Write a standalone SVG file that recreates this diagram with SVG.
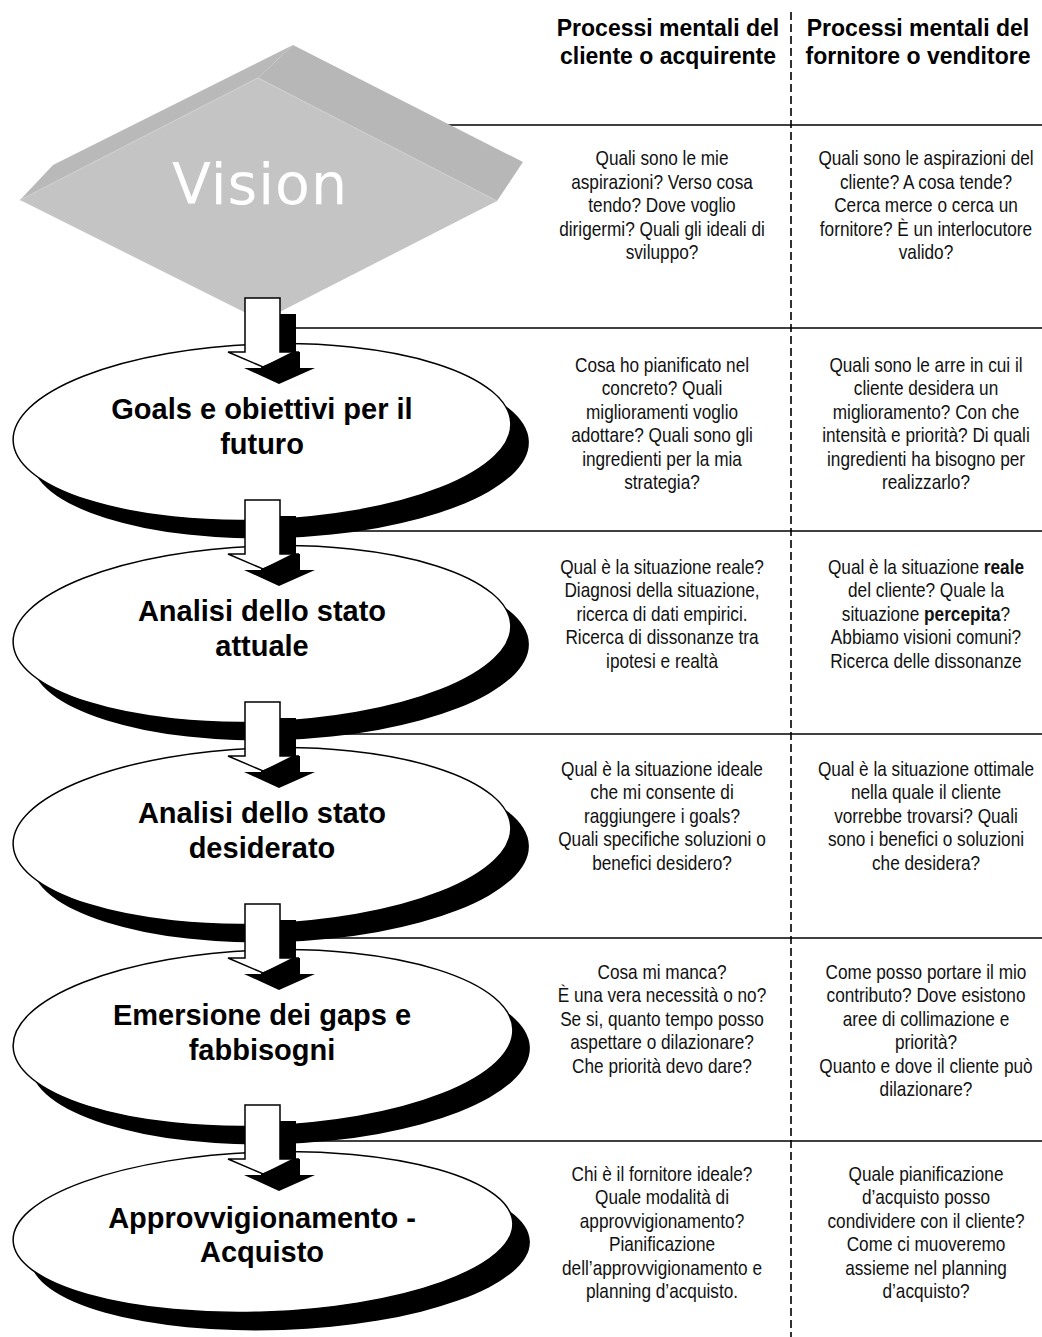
<svg xmlns="http://www.w3.org/2000/svg" width="1042" height="1337" viewBox="0 0 1042 1337">
<style>
.sep{stroke:#000;stroke-width:1.6;fill:none}
.dash{stroke:#000;stroke-width:1.6;stroke-dasharray:8 4;fill:none}
.hdr{font-family:"Liberation Sans",Arial,sans-serif;font-weight:bold;font-size:23px;fill:#000;text-anchor:middle}
.t{font-family:"Liberation Sans",Arial,sans-serif;font-size:21px;fill:#111;text-anchor:middle}
.lbl{font-family:"Liberation Sans",Arial,sans-serif;font-weight:bold;font-size:29px;fill:#000;text-anchor:middle}
.ell{fill:#fff;stroke:#000;stroke-width:1.5}
.shd{fill:#000}
.arw{fill:#fff;stroke:#000;stroke-width:1.5;stroke-linejoin:miter}
</style>
<defs>
<g id="arrowShape">
<polygon class="shd" points="261,16 296,16 296,70 315,70 279,86 244,70 261,70"/>
<polygon class="arw" points="245,0 280,0 280,54 299,54 263,69 228,54 245,54"/>
<polygon class="shd" points="262,69 292,54 300,54 300,71"/>
</g>
</defs>
<rect width="1042" height="1337" fill="#fff"/>

<g id="connectors">
<line class="dash" x1="791" y1="12" x2="791" y2="1337"/>
<line class="sep" x1="300" y1="125" x2="1042" y2="125"/>
<line class="sep" x1="296" y1="328" x2="1042" y2="328"/>
<line class="sep" x1="296" y1="531" x2="1042" y2="531"/>
<line class="sep" x1="296" y1="734" x2="1042" y2="734"/>
<line class="sep" x1="296" y1="938" x2="1042" y2="938"/>
<line class="sep" x1="296" y1="1141" x2="1042" y2="1141"/>
</g>

<g id="headers">
<text class="hdr"><tspan x="668" y="36">Processi mentali del</tspan><tspan x="668" y="64">cliente o acquirente</tspan></text>
<text class="hdr"><tspan x="918" y="36">Processi mentali del</tspan><tspan x="918" y="64">fornitore o venditore</tspan></text>
</g>

<g id="vision">
<polygon points="53,165 293,45 258,78 20,200" fill="#b9b9b9"/>
<polygon points="293,45 523,162 497,201 258,78" fill="#b7b7b7"/>
<polygon points="258,78 497,201 262,321 20,200" fill="#c4c4c4"/>
<polyline points="20,200 258,78 497,201" fill="none" stroke="#cdcdcd" stroke-width="1.2"/>
<text x="172" y="204" font-family="'DejaVu Sans',Verdana,sans-serif" font-size="57" letter-spacing="1" fill="#fff">Vision</text>
</g>

<g id="goals">
<ellipse class="shd" cx="280" cy="450" rx="249" ry="88" transform="rotate(-2 280 450)"/>
<ellipse class="ell" cx="262" cy="432" rx="249" ry="88" transform="rotate(-2 262 432)"/>
<text class="lbl"><tspan x="262" y="419">Goals e obiettivi per il</tspan><tspan x="262" y="454">futuro</tspan></text>
</g>

<g id="attuale">
<ellipse class="shd" cx="280" cy="652" rx="249" ry="88" transform="rotate(-2 280 652)"/>
<ellipse class="ell" cx="262" cy="634" rx="249" ry="88" transform="rotate(-2 262 634)"/>
<text class="lbl"><tspan x="262" y="621">Analisi dello stato</tspan><tspan x="262" y="656">attuale</tspan></text>
</g>

<g id="desiderato">
<ellipse class="shd" cx="280" cy="854" rx="249" ry="88" transform="rotate(-2 280 854)"/>
<ellipse class="ell" cx="262" cy="836" rx="249" ry="88" transform="rotate(-2 262 836)"/>
<text class="lbl"><tspan x="262" y="823">Analisi dello stato</tspan><tspan x="262" y="858">desiderato</tspan></text>
</g>

<g id="gaps">
<ellipse class="shd" cx="280" cy="1056" rx="250" ry="88" transform="rotate(-2 280 1056)"/>
<ellipse class="ell" cx="263" cy="1038" rx="250" ry="88" transform="rotate(-2 263 1038)"/>
<text class="lbl"><tspan x="262" y="1025">Emersione dei gaps e</tspan><tspan x="262" y="1060">fabbisogni</tspan></text>
</g>

<g id="acquisto">
<ellipse class="shd" cx="280" cy="1250" rx="250" ry="80" transform="rotate(-2 280 1250)"/>
<ellipse class="ell" cx="263" cy="1232" rx="250" ry="80" transform="rotate(-2 263 1232)"/>
<text class="lbl"><tspan x="262" y="1228">Approvvigionamento -</tspan><tspan x="262" y="1262">Acquisto</tspan></text>
</g>

<g id="arrows">
<use href="#arrowShape" transform="translate(0,298)"/>
<use href="#arrowShape" transform="translate(0,500)"/>
<use href="#arrowShape" transform="translate(0,702)"/>
<use href="#arrowShape" transform="translate(0,904)"/>
<use href="#arrowShape" transform="translate(0,1105)"/>
</g>

<g id="row1">
<text class="t" transform="translate(662,0) scale(0.82,1)"><tspan x="0" y="165.5">Quali sono le mie</tspan><tspan x="0" dy="23.4">aspirazioni? Verso cosa</tspan><tspan x="0" dy="23.4">tendo? Dove voglio</tspan><tspan x="0" dy="23.4">dirigermi? Quali gli ideali di</tspan><tspan x="0" dy="23.4">sviluppo?</tspan></text>
<text class="t" transform="translate(926,0) scale(0.82,1)"><tspan x="0" y="165.5">Quali sono le aspirazioni del</tspan><tspan x="0" dy="23.4">cliente? A cosa tende?</tspan><tspan x="0" dy="23.4">Cerca merce o cerca un</tspan><tspan x="0" dy="23.4">fornitore? È un interlocutore</tspan><tspan x="0" dy="23.4">valido?</tspan></text>
</g>

<g id="row2">
<text class="t" transform="translate(662,0) scale(0.82,1)"><tspan x="0" y="372">Cosa ho pianificato nel</tspan><tspan x="0" dy="23.4">concreto? Quali</tspan><tspan x="0" dy="23.4">miglioramenti voglio</tspan><tspan x="0" dy="23.4">adottare? Quali sono gli</tspan><tspan x="0" dy="23.4">ingredienti per la mia</tspan><tspan x="0" dy="23.4">strategia?</tspan></text>
<text class="t" transform="translate(926,0) scale(0.82,1)"><tspan x="0" y="372">Quali sono le arre in cui il</tspan><tspan x="0" dy="23.4">cliente desidera un</tspan><tspan x="0" dy="23.4">miglioramento? Con che</tspan><tspan x="0" dy="23.4">intensità e priorità? Di quali</tspan><tspan x="0" dy="23.4">ingredienti ha bisogno per</tspan><tspan x="0" dy="23.4">realizzarlo?</tspan></text>
</g>

<g id="row3">
<text class="t" transform="translate(662,0) scale(0.82,1)"><tspan x="0" y="574">Qual è la situazione reale?</tspan><tspan x="0" dy="23.4">Diagnosi della situazione,</tspan><tspan x="0" dy="23.4">ricerca di dati  empirici.</tspan><tspan x="0" dy="23.4">Ricerca di dissonanze tra</tspan><tspan x="0" dy="23.4">ipotesi e realtà</tspan></text>
<text class="t" transform="translate(926,0) scale(0.82,1)"><tspan x="0" y="574">Qual è la situazione <tspan font-weight="bold">reale</tspan></tspan><tspan x="0" dy="23.4">del cliente? Quale la</tspan><tspan x="0" dy="23.4">situazione <tspan font-weight="bold">percepita</tspan>?</tspan><tspan x="0" dy="23.4">Abbiamo visioni comuni?</tspan><tspan x="0" dy="23.4">Ricerca delle dissonanze</tspan></text>
</g>

<g id="row4">
<text class="t" transform="translate(662,0) scale(0.82,1)"><tspan x="0" y="776">Qual è la situazione ideale</tspan><tspan x="0" dy="23.4">che mi consente di</tspan><tspan x="0" dy="23.4">raggiungere i goals?</tspan><tspan x="0" dy="23.4">Quali specifiche soluzioni o</tspan><tspan x="0" dy="23.4">benefici desidero?</tspan></text>
<text class="t" transform="translate(926,0) scale(0.82,1)"><tspan x="0" y="776">Qual è la situazione ottimale</tspan><tspan x="0" dy="23.4">nella quale il cliente</tspan><tspan x="0" dy="23.4">vorrebbe trovarsi? Quali</tspan><tspan x="0" dy="23.4">sono i benefici o soluzioni</tspan><tspan x="0" dy="23.4">che desidera?</tspan></text>
</g>

<g id="row5">
<text class="t" transform="translate(662,0) scale(0.82,1)"><tspan x="0" y="979">Cosa mi manca?</tspan><tspan x="0" dy="23.4">È una vera necessità o no?</tspan><tspan x="0" dy="23.4">Se si, quanto tempo posso</tspan><tspan x="0" dy="23.4">aspettare o dilazionare?</tspan><tspan x="0" dy="23.4">Che priorità devo dare?</tspan></text>
<text class="t" transform="translate(926,0) scale(0.82,1)"><tspan x="0" y="979">Come posso portare il mio</tspan><tspan x="0" dy="23.4">contributo? Dove esistono</tspan><tspan x="0" dy="23.4">aree di collimazione e</tspan><tspan x="0" dy="23.4">priorità?</tspan><tspan x="0" dy="23.4">Quanto e dove il cliente può</tspan><tspan x="0" dy="23.4">dilazionare?</tspan></text>
</g>

<g id="row6">
<text class="t" transform="translate(662,0) scale(0.82,1)"><tspan x="0" y="1181">Chi è il fornitore ideale?</tspan><tspan x="0" dy="23.4">Quale modalità di</tspan><tspan x="0" dy="23.4">approvvigionamento?</tspan><tspan x="0" dy="23.4">Pianificazione</tspan><tspan x="0" dy="23.4">dell’approvvigionamento e</tspan><tspan x="0" dy="23.4">planning d’acquisto.</tspan></text>
<text class="t" transform="translate(926,0) scale(0.82,1)"><tspan x="0" y="1181">Quale pianificazione</tspan><tspan x="0" dy="23.4">d’acquisto posso</tspan><tspan x="0" dy="23.4">condividere con il cliente?</tspan><tspan x="0" dy="23.4">Come ci muoveremo</tspan><tspan x="0" dy="23.4">assieme nel planning</tspan><tspan x="0" dy="23.4">d’acquisto?</tspan></text>
</g>
</svg>
